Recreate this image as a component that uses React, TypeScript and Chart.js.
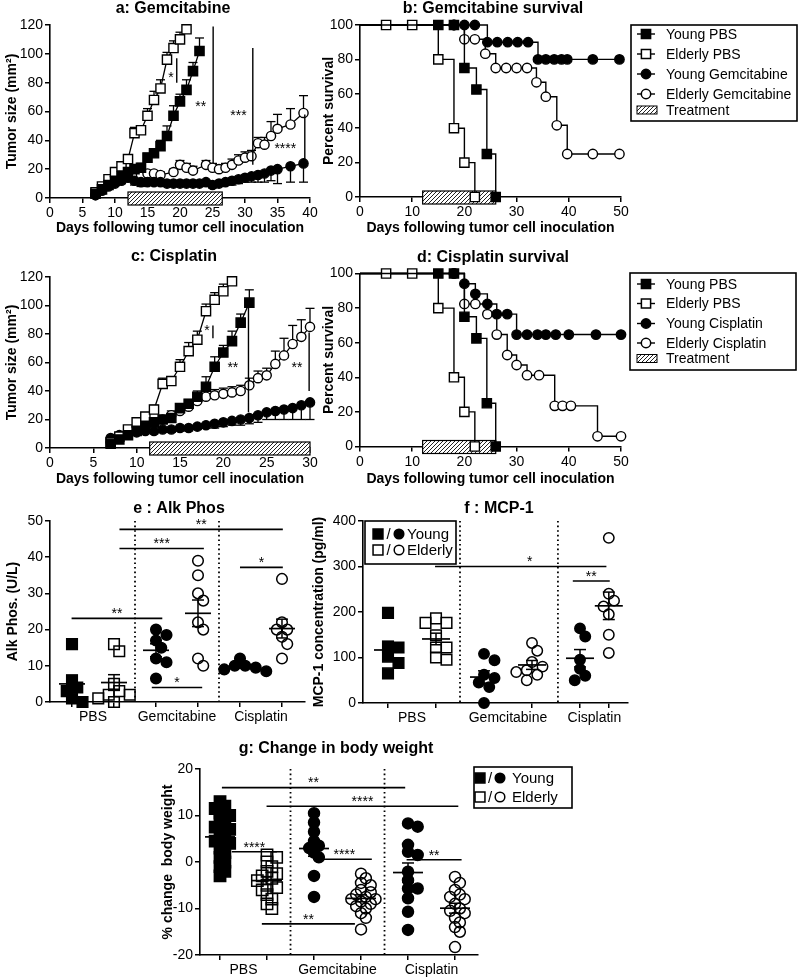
import React, { useEffect, useRef } from 'react';
import { Chart, registerables } from 'chart.js';

Chart.register(...registerables);

const FONT = '"Liberation Sans", Arial, Helvetica, sans-serif';
Chart.defaults.font.family = FONT;
Chart.defaults.color = '#000';
const W = 800;
const H = 979;

// ================= DATA =================
// Tumour growth (mm²) – PBS groups shared by panels a and c
const youngPbsDays = [7, 8, 9, 10, 11, 12, 13, 14, 15, 16, 17, 18, 19, 20, 21, 22, 23];
const youngPbsSize = [3, 6, 9, 12, 15, 18, 20, 21, 28, 31, 36, 43, 57, 67, 75, 88, 102];
const youngPbsSem = [1, 1, 1, 1, 2, 2, 2, 3, 3, 3, 4, 7, 7, 5, 7, 6, 9];

const elderlyPbsDays = [7, 8, 9, 10, 11, 12, 13, 14, 15, 16, 17, 18, 19, 20, 21];
const elderlyPbsSize = [4, 8, 13, 18, 22, 27, 45, 47, 57, 68, 76, 96, 104, 110, 117];
const elderlyPbsSem = [1, 1, 2, 2, 2, 3, 4, 3, 5, 6, 6, 5, 5, 5, 0];

const youngGemDays = [7, 8, 9, 10, 11, 12, 13, 14, 15, 16, 17, 18, 19, 20, 21, 22, 23, 24, 25, 26, 27, 28, 29, 30, 31, 32, 33, 34, 35, 37, 39];
const youngGemSize = [2, 5, 8, 10, 12, 14, 12, 11, 11, 11, 11, 10, 10, 10, 10, 10, 10, 11, 9, 10, 11, 12, 13, 14, 15, 16, 17, 19, 20, 22, 24];
const youngGemSem = [1, 1, 1, 1, 2, 2, 3, 3, 2, 2, 2, 2, 2, 2, 2, 2, 2, 2, 2, 2, 2, 3, 3, 3, 4, 5, 6, 7, 10, 11, 13];

const elderlyGemDays = [7, 8, 9, 10, 11, 12, 13, 14, 15, 16, 17, 19, 20, 21, 22, 24, 25, 26, 27, 28, 29, 30, 31, 32, 33, 34, 35, 37, 39];
const elderlyGemSize = [2, 6, 9, 12, 14, 16, 15, 16, 17, 17, 16, 18, 23, 21, 19, 23, 21, 20, 21, 23, 26, 28, 29, 38, 37, 43, 48, 51, 59];
const elderlyGemSem = [1, 1, 1, 2, 2, 2, 2, 2, 2, 2, 2, 2, 3, 3, 3, 3, 3, 3, 3, 4, 4, 4, 4, 4, 5, 10, 10, 11, 12];

const youngCisDays = [7, 8, 9, 10, 11, 12, 13, 14, 15, 16, 17, 18, 19, 20, 21, 22, 23, 24, 25, 26, 27, 28, 29, 30];
const youngCisSize = [7, 9, 10, 11, 12, 12, 13, 13, 14, 14, 15, 16, 17, 18, 19, 20, 21, 23, 25, 26, 27, 28, 30, 32];
const youngCisSem = [1, 1, 1, 1, 1, 2, 2, 2, 2, 2, 2, 2, 3, 3, 3, 4, 4, 5, 5, 6, 7, 8, 10, 12];

const elderlyCisDays = [7, 8, 9, 10, 11, 12, 13, 14, 15, 16, 17, 18, 19, 20, 21, 22, 23, 24, 25, 26, 27, 28, 29, 30];
const elderlyCisSize = [4, 7, 10, 13, 16, 18, 20, 23, 26, 29, 33, 36, 37, 38, 39, 40, 44, 49, 51, 59, 65, 73, 78, 85];
const elderlyCisSem = [1, 1, 1, 2, 2, 2, 2, 3, 3, 3, 3, 4, 4, 4, 4, 4, 5, 5, 5, 9, 12, 13, 12, 13];

// Survival (percent)
const kmYoungPbsDays = [0, 15, 18, 20, 22.3, 24.3, 26];
const kmYoungPbsSurv = [100, 100, 100, 75, 62.5, 25, 0];
const kmElderlyPbsDays = [0, 5, 10, 15, 18, 20, 22];
const kmElderlyPbsSurv = [100, 100, 100, 80, 40, 20, 0];
const kmYoungGemDays = [0, 18, 20, 22, 24.4, 26.3, 28.3, 30.2, 32.2, 34.1, 35.6, 37.2, 38.6, 39.7, 44.6, 49.7];
const kmYoungGemSurv = [100, 100, 100, 100, 90, 90, 90, 90, 90, 80, 80, 80, 80, 80, 80, 80];
const kmElderlyGemDays = [0, 18, 20, 22, 24, 26, 28, 30, 32, 33.8, 35.6, 37.7, 39.7, 44.6, 49.7];
const kmElderlyGemSurv = [100, 100, 91.7, 91.7, 83.3, 75, 75, 75, 75, 66.7, 58.3, 41.7, 25, 25, 25];
const kmYoungCisDays = [0, 18, 20, 22.1, 24.4, 26.2, 28.2, 30, 32, 34, 35.6, 37.5, 40, 45.2, 50];
const kmYoungCisSurv = [100, 100, 94.1, 88.2, 82.4, 76.5, 76.5, 64.7, 64.7, 64.7, 64.7, 64.7, 64.7, 64.7, 64.7];
const kmElderlyCisDays = [0, 18, 20, 22.1, 24.4, 26.2, 28.2, 30, 32, 34.3, 37.3, 38.8, 40.4, 45.5, 50];
const kmElderlyCisSurv = [100, 100, 82.4, 82.4, 76.5, 64.7, 52.9, 47.1, 41.2, 41.2, 23.5, 23.5, 23.5, 5.9, 5.9];

// Group scatter panels
const groupLabels = ['PBS', 'Gemcitabine', 'Cisplatin'];

const alkPbsYoung = [16, 6, 4, 3, 1, 0];
const alkPbsElderly = [16, 14, 5, 3, 2, 2, 1, 0];
const alkGemYoung = [20, 18.5, 17, 15, 12, 11, 6.5];
const alkGemElderly = [39, 35, 30, 28, 22, 20, 12, 10];
const alkCisYoung = [12, 10, 10, 9.5, 9, 8.5];
const alkCisElderly = [34, 22, 20, 20, 18, 16, 12];

const mcpPbsYoung = [198, 124, 122, 102, 88, 65];
const mcpPbsElderly = [186, 176, 176, 149, 122, 122, 100, 95];
const mcpGemYoung = [108, 94, 62, 55, 45, 35, 0];
const mcpGemElderly = [132, 115, 90, 80, 72, 68, 62, 50];
const mcpCisYoung = [164, 146, 95, 75, 60, 50];
const mcpCisElderly = [363, 240, 225, 212, 195, 150, 110];

const bwPbsYoung = [13, 12, 11.5, 10.5, 10, 9, 8, 7.5, 7, 6, 5, 4.5, 4, 3, 2, 1, 0, -1, -2, -3];
const bwPbsElderly = [1.5, 1, 0, -1, -2, -2.5, -3, -3.5, -4, -5, -5.5, -6, -7, -8, -9, -10];
const bwGemYoung = [10.5, 8.5, 6.5, 4.5, 3.5, 3, 2, 1, -3, -7.5];
const bwGemElderly = [-2.5, -3.5, -4.5, -5, -6, -6.5, -7, -7.5, -8, -8, -8.5, -9, -9.5, -10, -11, -12, -14.5];
const bwCisYoung = [8.3, 7.6, 3.7, 2.2, 1.5, -2.1, -3.9, -5.7, -5.7, -7.8, -10.7, -14.6];
const bwCisElderly = [-3.2, -4.5, -6, -7, -7.5, -8, -9, -10, -10.5, -11, -12, -13, -14, -15, -18.3];

// column positions (category units)
const ePositions = [1, 2, 3, 4, 5, 6];
const fPositions = [1, 2, 3, 4, 5, 5.6];
const gPositions = [1, 2, 3, 4, 5, 6];

// ================= HELPERS =================
const TITLE_OFF = 12.4;

function layoutFor(g: any) {
  const padL = g.yTitleX - TITLE_OFF;
  const yw = g.l - padL;
  const xBottom = g.xTitleY !== undefined ? g.xTitleY + TITLE_OFF : g.b + 32;
  const xh = xBottom - g.b;
  return { padding: { left: padL, top: g.t, right: W - g.r, bottom: H - xBottom }, yw, xh };
}

const gridOpts = { display: true, drawOnChartArea: false, drawTicks: true, tickLength: 5, color: '#000', lineWidth: 1.5 };
const borderOpts = { display: true, color: '#000', width: 1.6 };
const tickFont = { family: FONT, size: 14 };
const axTitle = (text: string) => ({ display: true, text, color: '#000', font: { family: FONT, size: 14, weight: 'bold' }, padding: { top: 4, bottom: 4 } });

function numAxis(min: number, max: number, step: number, fit: number, which: string, title?: string) {
  return {
    type: 'linear', min, max,
    ticks: { stepSize: step, color: '#000', font: tickFont, padding: 2, autoSkip: false, maxRotation: 0 },
    grid: gridOpts, border: borderOpts,
    title: title ? axTitle(title) : { display: false },
    afterFit: (s: any) => { if (which === 'x') s.height = fit; else s.width = fit; },
  };
}

function groupAxis(min: number, max: number, tickPos: number[], labelPos: number[], fit: number) {
  return {
    type: 'linear', min, max,
    afterBuildTicks: (s: any) => {
      s.ticks = [...tickPos, ...labelPos].sort((a, b) => a - b).map((v) => ({ value: v }));
    },
    ticks: {
      color: '#000', font: tickFont, padding: 2, autoSkip: false, maxRotation: 0,
      callback: (v: number) => { const i = labelPos.indexOf(v); return i >= 0 ? groupLabels[i] : ''; },
    },
    grid: { ...gridOpts, color: (c: any) => (c.tick && labelPos.indexOf(c.tick.value) >= 0 ? 'rgba(0,0,0,0)' : '#000') },
    border: borderOpts,
    afterFit: (s: any) => { s.height = fit; },
  };
}

const pts = (xs: number[], ys: number[]) => xs.map((x, i) => ({ x, y: ys[i] }));

function growthSet(days: number[], vals: number[], sem: number[], style: string, filled: boolean, dir: number) {
  return {
    data: pts(days, vals), errors: sem, errDir: dir,
    borderColor: '#000', borderWidth: 1.3, tension: 0,
    pointStyle: style, pointRadius: style === 'rect' ? 6.5 : 4.6,
    pointBackgroundColor: filled ? '#000' : '#fff', pointBorderColor: '#000', pointBorderWidth: 1.4,
    clip: false,
  };
}

function kmSet(days: number[], surv: number[], style: string, filled: boolean) {
  return {
    data: pts(days, surv), stepped: true,
    borderColor: '#000', borderWidth: 1.4,
    pointStyle: style, pointRadius: (c: any) => (c.dataIndex === 0 ? 0 : style === 'rect' ? 6.5 : 4.7),
    pointBackgroundColor: filled ? '#000' : '#fff', pointBorderColor: '#000', pointBorderWidth: 1.4,
    clip: false,
  };
}

function groupSet(values: number[], pos: number, style: string, filled: boolean, r: number) {
  return {
    type: 'scatter', data: values.map((v) => ({ x: pos, y: v })), groupX: pos, summary: true,
    showLine: false, pointStyle: style, pointRadius: r,
    pointBackgroundColor: filled ? '#000' : 'rgba(255,255,255,0)', pointBorderColor: '#000', pointBorderWidth: 1.5,
    clip: false,
  };
}

function makeHatch(ctx: CanvasRenderingContext2D) {
  const c = document.createElement('canvas');
  c.width = 4; c.height = 4;
  const g = c.getContext('2d')!;
  g.fillStyle = '#fff'; g.fillRect(0, 0, 4, 4);
  g.strokeStyle = '#222'; g.lineWidth = 1;
  g.beginPath();
  g.moveTo(0, 4); g.lineTo(4, 0);
  g.moveTo(-1, 1); g.lineTo(1, -1);
  g.moveTo(3, 5); g.lineTo(5, 3);
  g.stroke();
  return ctx.createPattern(c, 'repeat')!;
}

function marker(ctx: CanvasRenderingContext2D, style: string, x: number, y: number, r: number, filled: boolean) {
  ctx.save();
  ctx.lineWidth = 1.5; ctx.strokeStyle = '#000'; ctx.fillStyle = filled ? '#000' : '#fff';
  ctx.beginPath();
  if (style === 'rect') { const s = r * Math.SQRT1_2; ctx.rect(x - s, y - s, 2 * s, 2 * s); }
  else ctx.arc(x, y, r, 0, Math.PI * 2);
  ctx.fill(); ctx.stroke();
  ctx.restore();
}

function stars(ctx: CanvasRenderingContext2D, text: string, x: number, y: number) {
  ctx.save();
  ctx.font = `14px ${FONT}`; ctx.fillStyle = '#000'; ctx.textAlign = 'center'; ctx.textBaseline = 'middle';
  ctx.fillText(text, x, y + 3);
  ctx.restore();
}

function line(ctx: CanvasRenderingContext2D, x1: number, y1: number, x2: number, y2: number, w = 1.4) {
  ctx.beginPath(); ctx.lineWidth = w; ctx.strokeStyle = '#000';
  ctx.moveTo(x1, y1); ctx.lineTo(x2, y2); ctx.stroke();
}

function applySwarm(chart: any, sw: any) {
  const xs = chart.scales.x;
  chart.data.datasets.forEach((ds: any, di: number) => {
    if (ds.groupX === undefined) return;
    const meta = chart.getDatasetMeta(di);
    const cx = xs.getPixelForValue(ds.groupX);
    const els = meta.data.slice().sort((a: any, b: any) => a.y - b.y);
    const placed: any[] = [];
    els.forEach((el: any) => {
      let off = 0;
      for (let k = 0; k < 24; k++) {
        const o = (k === 0 ? 0 : (k % 2 ? 1 : -1) * Math.ceil(k / 2)) * sw.D * sw.step;
        if (placed.every((p) => Math.hypot(p.x - (cx + o), p.y - el.y) >= sw.D * sw.min)) { off = o; break; }
      }
      el.x = cx + off;
      placed.push({ x: el.x, y: el.y });
    });
  });
}

function decorPlugin(d: any) {
  return {
    id: 'decor',
    afterDatasetsUpdate(chart: any) {
      if (d.swarm) applySwarm(chart, d.swarm);
    },
    beforeDatasetsDraw(chart: any) {
      const ctx = chart.ctx; const xs = chart.scales.x; const ys = chart.scales.y; const ca = chart.chartArea;
      ctx.save();
      (d.separators || []).forEach((s: number) => {
        const px = xs.getPixelForValue(s);
        ctx.setLineDash([1.6, 3]);
        line(ctx, px, ca.top, px, ca.bottom, 1.8);
      });
      ctx.setLineDash([]);
      if (d.treatment) {
        const x1 = xs.getPixelForValue(d.treatment[0]);
        const x2 = xs.getPixelForValue(d.treatment[1]);
        const y0 = ys.getPixelForValue(0);
        ctx.fillStyle = makeHatch(ctx);
        ctx.fillRect(x1, y0 - 6, x2 - x1, 13);
        ctx.lineWidth = 1.2; ctx.strokeStyle = '#000';
        ctx.strokeRect(x1, y0 - 6, x2 - x1, 13);
      }
      chart.data.datasets.forEach((ds: any, di: number) => {
        if (!ds.errors) return;
        const meta = chart.getDatasetMeta(di);
        meta.data.forEach((el: any, i: number) => {
          const e = ds.errors[i];
          if (!e) return;
          const py = ys.getPixelForValue(ds.data[i].y + ds.errDir * e);
          line(ctx, el.x, el.y, el.x, py, 1.3);
          line(ctx, el.x - 4.5, py, el.x + 4.5, py, 1.3);
        });
      });
      ctx.restore();
    },
    afterDatasetsDraw(chart: any) {
      const ctx = chart.ctx; const xs = chart.scales.x; const ys = chart.scales.y;
      ctx.save();
      // mean ± SEM
      chart.data.datasets.forEach((ds: any) => {
        if (!ds.summary) return;
        const vals = ds.data.map((p: any) => p.y);
        const n = vals.length;
        const mean = vals.reduce((a: number, b: number) => a + b, 0) / n;
        const sd = Math.sqrt(vals.reduce((a: number, b: number) => a + (b - mean) * (b - mean), 0) / (n - 1));
        const sem = sd / Math.sqrt(n);
        const cx = xs.getPixelForValue(ds.groupX);
        const ym = ys.getPixelForValue(mean);
        const yt = ys.getPixelForValue(mean + sem);
        const yb = ys.getPixelForValue(mean - sem);
        line(ctx, cx - d.meanHalf, ym, cx + d.meanHalf, ym, 1.7);
        line(ctx, cx, yt, cx, yb, 1.5);
        line(ctx, cx - 6, yt, cx + 6, yt, 1.5);
        line(ctx, cx - 6, yb, cx + 6, yb, 1.5);
      });
      // significance annotations
      (d.anns || []).forEach((a: any) => {
        if (a.kind === 'v') {
          const px = xs.getPixelForValue(a.x);
          line(ctx, px, ys.getPixelForValue(a.y1), px, ys.getPixelForValue(a.y2), 1.4);
        } else if (a.kind === 'h') {
          const py = ys.getPixelForValue(a.y);
          const x1 = xs.getPixelForValue(a.x1); const x2 = xs.getPixelForValue(a.x2);
          line(ctx, x1, py, x2, py, 1.6);
          const tx = xs.getPixelForValue(a.tx !== undefined ? a.tx : (a.x1 + a.x2) / 2);
          stars(ctx, a.text, tx, py - 7);
        } else {
          stars(ctx, a.text, xs.getPixelForValue(a.x), ys.getPixelForValue(a.y));
        }
      });
      // legends
      if (d.kmLegend) {
        const L = d.kmLegend;
        ctx.lineWidth = 1.6; ctx.strokeStyle = '#000';
        ctx.strokeRect(L.box[0], L.box[1], L.box[2] - L.box[0], L.box[3] - L.box[1]);
        ctx.font = `14px ${FONT}`; ctx.fillStyle = '#000'; ctx.textAlign = 'left'; ctx.textBaseline = 'middle';
        L.labels.forEach((lab: string, i: number) => {
          const y = L.rows[i];
          const m = L.marks[i];
          if (m) {
            line(ctx, L.lineX[0], y, L.lineX[1], y, 1.4);
            marker(ctx, m.style, L.markX, y, m.style === 'rect' ? 6.5 : 4.7, m.filled);
          } else {
            ctx.save();
            ctx.fillStyle = makeHatch(ctx);
            ctx.fillRect(L.hatchX[0], y - 4, L.hatchX[1] - L.hatchX[0], 8);
            ctx.lineWidth = 1; ctx.strokeRect(L.hatchX[0], y - 4, L.hatchX[1] - L.hatchX[0], 8);
            ctx.restore();
          }
          ctx.font = `14px ${FONT}`; ctx.fillStyle = '#000'; ctx.textAlign = 'left'; ctx.textBaseline = 'middle';
          ctx.fillText(lab, L.textX, y + 1);
        });
      }
      if (d.groupLegend) {
        const L = d.groupLegend;
        ctx.lineWidth = 1.6; ctx.strokeStyle = '#000';
        ctx.strokeRect(L.box[0], L.box[1], L.box[2] - L.box[0], L.box[3] - L.box[1]);
        L.labels.forEach((lab: string, i: number) => {
          const y = L.rows[i];
          const filled = i === 0;
          marker(ctx, 'rect', L.sqX, y, 7, filled);
          marker(ctx, 'circle', L.circX, y, 4.8, filled);
          ctx.font = `15px ${FONT}`; ctx.fillStyle = '#000'; ctx.textBaseline = 'middle';
          ctx.textAlign = 'center'; ctx.fillText('/', L.slashX, y + 1);
          ctx.textAlign = 'left'; ctx.fillText(lab, L.textX, y + 1);
        });
      }
      // panel title
      ctx.font = `bold 16px ${FONT}`; ctx.fillStyle = '#000'; ctx.textAlign = 'center'; ctx.textBaseline = 'middle';
      ctx.fillText(d.title.text, d.title.x, d.title.y);
      ctx.restore();
    },
  };
}

const baseOpts = (padding: any) => ({
  responsive: false, animation: false, events: [],
  layout: { padding },
  plugins: { legend: { display: false }, tooltip: { enabled: false }, title: { display: false } },
});

const DAYS_TITLE = 'Days following tumor cell inoculation';

function growthConfig(geo: any, xMax: number, datasets: any[], decor: any) {
  const { padding, yw, xh } = layoutFor(geo);
  return {
    type: 'line', data: { datasets },
    options: {
      ...baseOpts(padding),
      scales: {
        x: numAxis(0, xMax, 5, xh, 'x', DAYS_TITLE),
        y: numAxis(0, 120, 20, yw, 'y', 'Tumor size (mm²)'),
      },
    },
    plugins: [decorPlugin(decor)],
  };
}

function kmConfig(geo: any, datasets: any[], decor: any) {
  const { padding, yw, xh } = layoutFor(geo);
  return {
    type: 'line', data: { datasets },
    options: {
      ...baseOpts(padding),
      scales: {
        x: numAxis(0, 50, 10, xh, 'x', DAYS_TITLE),
        y: numAxis(0, 100, 20, yw, 'y', 'Percent survival'),
      },
    },
    plugins: [decorPlugin(decor)],
  };
}

function groupConfig(geo: any, xr: number[], pos: number[], labelPos: number[], yr: number[], yTitle: string, groups: number[][], r: number[], decor: any) {
  const { padding, yw, xh } = layoutFor(geo);
  const datasets = groups.map((vals, i) => {
    const square = i < 2;
    const filled = i % 2 === 0;
    return groupSet(vals, pos[i], square ? 'rect' : 'circle', filled, square ? r[0] : r[1]);
  });
  return {
    type: 'scatter', data: { datasets },
    options: {
      ...baseOpts(padding),
      scales: {
        x: groupAxis(xr[0], xr[1], pos, labelPos, xh),
        y: numAxis(yr[0], yr[1], yr[2], yw, 'y', yTitle),
      },
    },
    plugins: [decorPlugin(decor)],
  };
}

const kmLegendBase = { lineX: [637, 655], markX: 646, textX: 666, hatchX: [637, 657] };

const PANELS: (() => any)[] = [
  // a
  () => growthConfig({ l: 50, t: 25, r: 310, b: 198, yTitleX: 12.5, xTitleY: 228 }, 40, [
    growthSet(youngPbsDays, youngPbsSize, youngPbsSem, 'rect', true, 1),
    growthSet(elderlyPbsDays, elderlyPbsSize, elderlyPbsSem, 'rect', false, 1),
    growthSet(youngGemDays, youngGemSize, youngGemSem, 'circle', true, -1),
    growthSet(elderlyGemDays, elderlyGemSize, elderlyGemSem, 'circle', false, 1),
  ], {
    title: { text: 'a: Gemcitabine', x: 173, y: 9 },
    treatment: [12, 26.5],
    anns: [
      { kind: 'v', x: 19.5, y1: 80, y2: 97 }, { kind: 't', x: 18.6, y: 85, text: '*' },
      { kind: 'v', x: 25.1, y1: 24, y2: 119 }, { kind: 't', x: 23.2, y: 65, text: '**' },
      { kind: 'v', x: 31.2, y1: 23, y2: 104 }, { kind: 't', x: 29, y: 59, text: '***' },
      { kind: 'v', x: 39.2, y1: 24, y2: 58 }, { kind: 't', x: 36.2, y: 36, text: '****' },
    ],
  }),
  // b
  () => kmConfig({ l: 360, t: 25, r: 621, b: 197, yTitleX: 329, xTitleY: 228 }, [
    kmSet(kmYoungPbsDays, kmYoungPbsSurv, 'rect', true),
    kmSet(kmElderlyPbsDays, kmElderlyPbsSurv, 'rect', false),
    kmSet(kmYoungGemDays, kmYoungGemSurv, 'circle', true),
    kmSet(kmElderlyGemDays, kmElderlyGemSurv, 'circle', false),
  ], {
    title: { text: 'b: Gemcitabine survival', x: 493, y: 9 },
    treatment: [12, 26],
    kmLegend: {
      ...kmLegendBase, box: [631, 25, 797, 121], rows: [34, 54, 74, 94, 110],
      labels: ['Young PBS', 'Elderly PBS', 'Young Gemcitabine', 'Elderly Gemcitabine', 'Treatment'],
      marks: [{ style: 'rect', filled: true }, { style: 'rect', filled: false }, { style: 'circle', filled: true }, { style: 'circle', filled: false }, null],
    },
  }),
  // c
  () => growthConfig({ l: 50, t: 277, r: 310, b: 448, yTitleX: 12.5, xTitleY: 479 }, 30, [
    growthSet(youngPbsDays, youngPbsSize, youngPbsSem, 'rect', true, 1),
    growthSet(elderlyPbsDays, elderlyPbsSize, elderlyPbsSem, 'rect', false, 1),
    growthSet(youngCisDays, youngCisSize, youngCisSem, 'circle', true, -1),
    growthSet(elderlyCisDays, elderlyCisSize, elderlyCisSem, 'circle', false, 1),
  ], {
    title: { text: 'c: Cisplatin', x: 174, y: 257 },
    treatment: [11.5, 30],
    anns: [
      { kind: 'v', x: 18.8, y1: 77, y2: 86 }, { kind: 't', x: 18.1, y: 84, text: '*' },
      { kind: 'v', x: 22.9, y1: 25, y2: 99 }, { kind: 't', x: 21.1, y: 58, text: '**' },
      { kind: 'v', x: 29.9, y1: 40, y2: 81 }, { kind: 't', x: 28.5, y: 58, text: '**' },
    ],
  }),
  // d
  () => kmConfig({ l: 360, t: 273.5, r: 621, b: 446.5, yTitleX: 329, xTitleY: 479 }, [
    kmSet(kmYoungPbsDays, kmYoungPbsSurv, 'rect', true),
    kmSet(kmElderlyPbsDays, kmElderlyPbsSurv, 'rect', false),
    kmSet(kmYoungCisDays, kmYoungCisSurv, 'circle', true),
    kmSet(kmElderlyCisDays, kmElderlyCisSurv, 'circle', false),
  ], {
    title: { text: 'd: Cisplatin survival', x: 493, y: 258 },
    treatment: [12, 26],
    kmLegend: {
      ...kmLegendBase, box: [630, 273, 796, 370], rows: [284, 303.5, 323.5, 343, 358.5],
      labels: ['Young PBS', 'Elderly PBS', 'Young Cisplatin', 'Elderly Cisplatin', 'Treatment'],
      marks: [{ style: 'rect', filled: true }, { style: 'rect', filled: false }, { style: 'circle', filled: true }, { style: 'circle', filled: false }, null],
    },
  }),
  // e
  () => groupConfig({ l: 50, t: 521, r: 305, b: 702, yTitleX: 13 }, [0.476, 6.548], ePositions, [1.5, 3.5, 5.5], [0, 50, 10], 'Alk Phos. (U/L)',
    [alkPbsYoung, alkPbsElderly, alkGemYoung, alkGemElderly, alkCisYoung, alkCisElderly], [7.5, 5.3], {
      title: { text: 'e : Alk Phos', x: 179, y: 509 },
      swarm: { D: 10.5, step: 0.5, min: 0.8 }, meanHalf: 13, separators: [2.5, 4.5],
      anns: [
        { kind: 'h', x1: 2.13, x2: 6.02, y: 47.7, text: '**' },
        { kind: 'h', x1: 2.13, x2: 4.14, y: 42.4, text: '***' },
        { kind: 'h', x1: 5.0, x2: 6.02, y: 37.2, text: '*' },
        { kind: 'h', x1: 0.99, x2: 3.15, y: 23.1, text: '**' },
        { kind: 'h', x1: 2.9, x2: 4.1, y: 4, text: '*' },
      ],
    }),
  // f
  () => groupConfig({ l: 363, t: 521, r: 628, b: 703, yTitleX: 319 }, [0.479, 6.0], fPositions, [1.5, 3.5, 5.3], [0, 400, 100], 'MCP-1 concentration (pg/ml)',
    [mcpPbsYoung, mcpPbsElderly, mcpGemYoung, mcpGemElderly, mcpCisYoung, mcpCisElderly], [7.5, 5.2], {
      title: { text: 'f : MCP-1', x: 499, y: 509 },
      swarm: { D: 10.5, step: 0.5, min: 0.8 }, meanHalf: 14, separators: [2.5, 4.54],
      anns: [
        { kind: 'h', x1: 1.98, x2: 5.55, y: 300, text: '*', tx: 3.95 },
        { kind: 'h', x1: 4.85, x2: 5.62, y: 268, text: '**' },
      ],
      groupLegend: { box: [365, 521, 456, 564], rows: [534, 550], labels: ['Young', 'Elderly'], sqX: 378, slashX: 388.5, circX: 399, textX: 407 },
    }),
  // g
  () => groupConfig({ l: 200, t: 769, r: 478, b: 955, yTitleX: 168 }, [0.574, 6.489], gPositions, [1.5, 3.5, 5.5], [-20, 20, 10], '% change  body weight',
    [bwPbsYoung, bwPbsElderly, bwGemYoung, bwGemElderly, bwCisYoung, bwCisElderly], [8, 5.5], {
      title: { text: 'g: Change in body weight', x: 336, y: 749 },
      swarm: { D: 11.5, step: 0.42, min: 0.55 }, meanHalf: 15, separators: [2.5, 4.5],
      anns: [
        { kind: 'h', x1: 1.04, x2: 4.94, y: 16, text: '**' },
        { kind: 'h', x1: 1.99, x2: 6.07, y: 12, text: '****' },
        { kind: 'h', x1: 1.25, x2: 2.21, y: 2.2, text: '****' },
        { kind: 'h', x1: 3.06, x2: 4.23, y: 0.6, text: '****' },
        { kind: 'h', x1: 4.97, x2: 6.14, y: 0.5, text: '**' },
        { kind: 'h', x1: 1.89, x2: 3.87, y: -13.3, text: '**' },
      ],
      groupLegend: { box: [474, 767, 572, 808], rows: [778, 797], labels: ['Young', 'Elderly'], sqX: 480, slashX: 490, circX: 500, textX: 512 },
    }),
];

function Panel({ make }: { make: () => any }) {
  const ref = useRef<HTMLCanvasElement>(null);
  useEffect(() => {
    const chart = new Chart(ref.current as HTMLCanvasElement, make());
    return () => chart.destroy();
  }, [make]);
  return (
    <canvas
      ref={ref}
      width={W}
      height={H}
      style={{ position: 'absolute', left: 0, top: 0, width: W, height: H }}
    />
  );
}

export default function App() {
  return (
    <div style={{ position: 'absolute', left: 0, top: 0, width: W, height: H, background: '#fff', overflow: 'hidden' }}>
      {PANELS.map((make, i) => (
        <Panel key={i} make={make} />
      ))}
    </div>
  );
}
